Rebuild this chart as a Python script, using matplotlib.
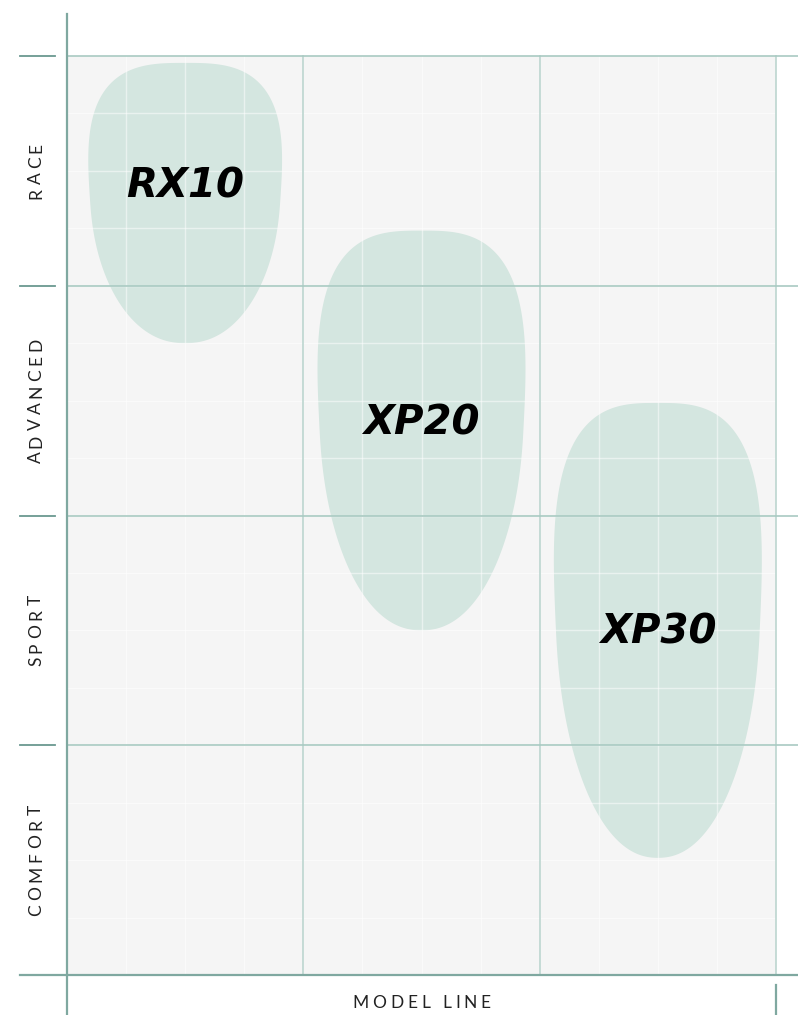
import numpy as np
import matplotlib
matplotlib.use("Agg")
import matplotlib.pyplot as plt
from matplotlib.textpath import TextToPath
from matplotlib.font_manager import FontProperties
import matplotlib.transforms as mtransforms

# rider levels (bottom to top) and model lines
levels = ["COMFORT", "SPORT", "ADVANCED", "RACE"]
models = ["RX10", "XP20", "XP30"]
model_center = [0.50, 1.50, 2.50]
model_halfwidth = [0.41, 0.44, 0.44]
level_low = [2.75, 1.50, 0.51]
level_high = [3.97, 3.24, 2.49]
label_y = [3.43, 2.40, 1.49]

bg = "#f5f5f5"
blob_color = "#d4e6e0"
grid_major = "#a9cac2"
axis_color = "#7fa8a0"
tick_color = "#6a9890"

fig = plt.figure(figsize=(7.98, 10.15), dpi=100)
ax = fig.add_axes([67 / 798, 40 / 1015, 709 / 798, 919 / 1015])
ax.set_xlim(0, 3)
ax.set_ylim(0, 4)
ax.set_facecolor(bg)
for s in ax.spines.values():
    s.set_visible(False)
ax.set_xticks([])
ax.set_yticks([])


def egg(cx, hw, lo, hi, n_top=3.0, n_bot=2.2, k=0.1):
    th = np.linspace(-np.pi / 2, np.pi / 2, 300)
    yy = np.sin(th)
    n = np.where(yy > 0, n_top, n_bot)
    w = (1 - np.abs(yy) ** n).clip(0) ** (1 / n) * (1 + k * yy)
    w = w / w.max()
    yc = (lo + hi) / 2
    hh = (hi - lo) / 2
    xs = np.concatenate([cx + hw * w, (cx - hw * w)[::-1]])
    ys = np.concatenate([yc + hh * yy, (yc + hh * yy)[::-1]])
    return xs, ys


def spaced_text(x, y, s, size, track, rotation=0):
    # letter-spaced text, one glyph at a time, centred on (x, y)
    prop = FontProperties(family="Lato", size=size)
    ttp = TextToPath()
    widths = [ttp.get_text_width_height_descent(c, prop, ismath=False)[0] for c in s]
    total = sum(widths) + track * (len(s) - 1)
    pos = -total / 2
    for c, w in zip(s, widths):
        off = pos + w / 2
        if rotation == 90:
            dx, dy = 0, off
        else:
            dx, dy = off, 0
        tr = mtransforms.offset_copy(ax.transData, fig=fig, x=dx, y=dy, units="points")
        ax.text(x, y, c, rotation=rotation, ha="center", va="center",
                fontproperties=prop, color="#222222", clip_on=False, transform=tr)
        pos += w + track


# blobs
for i, m in enumerate(models):
    x, y = egg(model_center[i], model_halfwidth[i], level_low[i], level_high[i])
    ax.fill(x, y, color=blob_color, lw=0, zorder=1)

# minor white grid
for xv in np.arange(0.25, 3, 0.25):
    ax.axvline(xv, color="white", lw=1, alpha=0.5, zorder=2)
for yv in np.arange(0.25, 4, 0.25):
    ax.axhline(yv, color="white", lw=1, alpha=0.5, zorder=2)

# major grid
for xv in [1, 2, 3]:
    ax.plot([xv, xv], [0, 4], color="#bcd5cf", lw=1.2, zorder=3, clip_on=False)
x_right = (798 - 67) / 709 * 3
for yv in [1, 2, 3, 4]:
    ax.plot([0, x_right], [yv, yv], color=grid_major, lw=1.2, zorder=3, clip_on=False)

# left ticks
tx0 = (20 - 67) / 709 * 3
tx1 = (55 - 67) / 709 * 3
for yv in [1, 2, 3, 4]:
    ax.plot([tx0, tx1], [yv, yv], color=tick_color, lw=1.3, zorder=4, clip_on=False)

# axis lines
ax.plot([tx0, x_right], [0, 0], color=axis_color, lw=1.6, zorder=4, clip_on=False)
ax.plot([0, 0], [-0.2, (975 - 14) / 919 * 4], color=axis_color, lw=1.6, zorder=4, clip_on=False)
ax.plot([3, 3], [-(985 - 975) / 919 * 4, -0.2], color=axis_color, lw=1.6, zorder=4, clip_on=False)

# level labels
lx = (36 - 67) / 709 * 3
for i, name in enumerate(levels):
    spaced_text(lx, i + 0.5, name, 12.5, 3.0, rotation=90)

spaced_text(1.5, -(1003 - 975) / 919 * 4, "MODEL LINE", 12.5, 2.8)

# model labels
for i, m in enumerate(models):
    ax.text(model_center[i], label_y[i], m, ha="center", va="center",
            fontsize=29, family="DejaVu Sans", fontweight="bold", style="italic",
            color="black", zorder=5)

fig.savefig("out.png", dpi=100, facecolor="white")
